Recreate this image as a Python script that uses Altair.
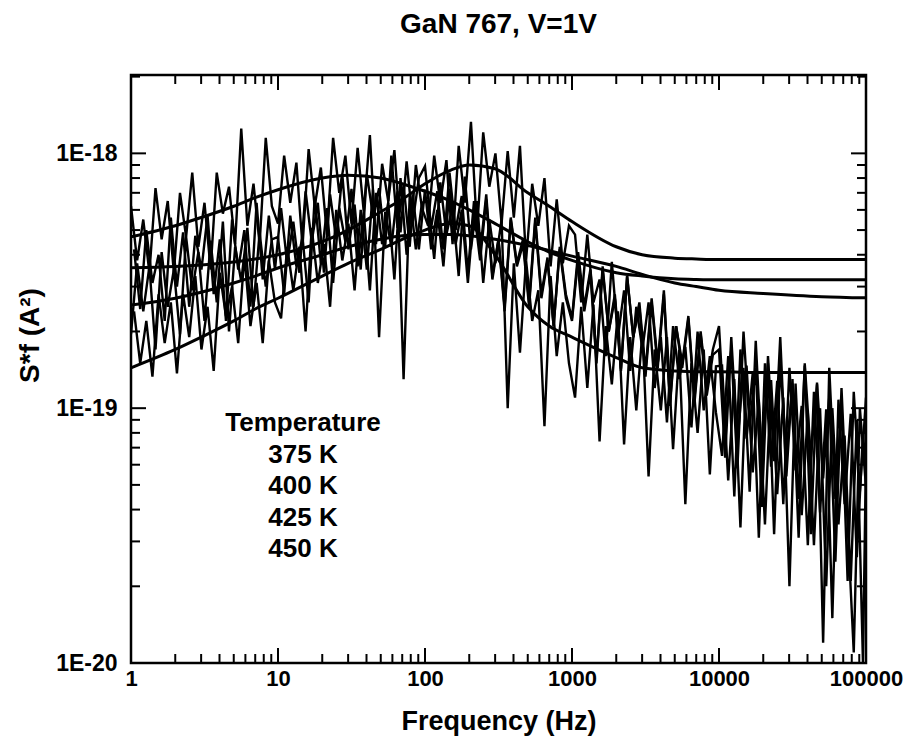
import altair as alt
import pandas as pd

FONT = "Liberation Sans"
UNIT = 1e-19  # values below are in units of 1E-19 A^2

# frequency grid (per-decade mantissas; two interleaved grids)
mant_a = [1.0, 1.101, 1.212, 1.334, 1.468, 1.616, 1.778, 1.957, 2.154, 2.371, 2.610, 2.873,
          3.162, 3.481, 3.831, 4.217, 4.642, 5.109, 5.623, 6.190, 6.813, 7.499, 8.254, 9.085]
mant_b = [1.049, 1.155, 1.271, 1.399, 1.540, 1.695, 1.866, 2.054, 2.261, 2.489, 2.738, 3.014,
          3.318, 3.652, 4.020, 4.425, 4.870, 5.361, 5.902, 6.496, 7.151, 7.871, 8.664, 9.537]
decades = [1, 10, 100, 1000, 10000]
f_max = 100000

# measured S*f, trace 375 K
t375 = ([6.2, 3.8, 5.5, 3.4, 7.3, 4.6, 6.5, 3.4, 7.0, 4.7, 8.4, 4.3, 6.4, 3.5, 8.4, 5.8, 7.4, 4.4, 12.5, 5.2, 7.6, 4.4, 11.5, 6.2]
        + [5.3, 9.8, 6.4, 9.2, 4.3, 10.4, 6.2, 8.8, 4.8, 11.5, 7.0, 9.8, 5.3, 10.5, 5.9, 11.8, 4.4, 9.1, 6.5, 10.3, 4.9, 9.3, 5.4, 8.0]
        + [8.9, 5.1, 7.1, 4.2, 8.4, 5.0, 6.8, 3.4, 6.5, 4.1, 6.9, 3.3, 4.6, 2.4, 5.5, 3.6, 4.4, 2.5, 5.4, 2.7, 3.8, 2.1, 4.2, 2.7]
        + [2.2, 3.9, 2.4, 3.4, 1.5, 3.5, 2.0, 2.7, 1.4, 3.3, 1.9, 2.6, 1.4, 2.7, 1.5, 2.9, 1.05, 2.1, 1.5, 2.3, 1.1, 2.0, 1.2, 1.7]
        + [2.1, 0.81, 1.7, 0.58, 2.0, 0.85, 1.44, 0.41, 1.6, 0.62, 1.9, 0.54, 1.3, 0.31, 1.5, 0.64, 1.24, 0.12, 1.44, 0.44, 1.02, 0.21, 1.16, 0.47]
        + [1.1])
# trace 400 K
t400 = ([4.2, 2.45, 5.0, 3.1, 4.0, 2.2, 5.6, 3.0, 4.9, 2.5, 4.75, 3.5, 5.7, 2.8, 4.6, 2.2, 5.5, 3.5, 5.0, 2.5, 6.4, 3.2, 5.7, 3.5]
        + [6.1, 3.7, 5.4, 3.4, 7.1, 4.5, 6.4, 3.4, 6.9, 4.6, 8.3, 4.2, 6.3, 3.5, 8.3, 5.7, 7.3, 4.3, 9.8, 5.1, 7.5, 4.3, 9.0, 6.1]
        + [5.2, 9.8, 6.4, 9.4, 4.4, 10.7, 6.4, 13.3, 5.0, 12.1, 7.4, 10.0, 5.3, 10.2, 5.6, 10.7, 3.8, 7.6, 5.2, 8.0, 3.6, 6.6, 3.7, 5.2]
        + [4.8, 2.6, 4.8, 2.6, 3.2, 1.6, 3.75, 1.9, 2.9, 1.4, 2.5, 1.7, 2.6, 1.2, 1.9, 0.88, 2.1, 1.3, 1.74, 0.84, 2.0, 0.98, 1.6, 0.96]
        + [0.65, 1.6, 0.45, 1.7, 0.76, 1.37, 0.31, 1.5, 0.59, 1.28, 0.42, 1.44, 0.57, 1.02, 0.29, 1.16, 0.39, 0.99, 0.15, 1.08, 0.42, 0.95, 0.26, 0.8]
        + [0.56])
# trace 425 K
t425 = ([1.95, 3.7, 2.4, 3.6, 1.7, 4.1, 2.5, 3.5, 1.95, 4.7, 2.9, 4.1, 2.2, 4.55, 2.6, 5.4, 2.0, 4.3, 3.15, 5.1, 2.5, 4.9, 3.0, 4.6]
        + [4.7, 2.8, 5.7, 3.6, 4.7, 2.6, 6.75, 3.7, 6.1, 3.1, 6.1, 4.5, 7.25, 3.6, 5.9, 2.9, 7.0, 4.4, 6.4, 3.2, 8.0, 4.0, 6.9, 4.2]
        + [7.2, 4.2, 6.0, 3.6, 7.25, 4.4, 6.0, 3.1, 6.0, 3.8, 6.6, 3.2, 4.6, 2.5, 5.6, 3.7, 4.6, 2.6, 5.6, 2.8, 3.9, 2.1, 4.3, 2.8]
        + [2.25, 4.1, 2.5, 3.5, 1.56, 3.6, 2.0, 2.8, 1.43, 3.3, 1.9, 2.5, 1.33, 2.6, 1.44, 2.8, 1.02, 2.1, 1.44, 2.25, 1.05, 1.96, 1.12, 1.62]
        + [1.7, 0.64, 1.9, 0.73, 1.44, 0.47, 1.84, 0.62, 1.5, 0.32, 1.5, 0.66, 1.25, 0.44, 1.47, 0.32, 1.26, 0.53, 1.1, 0.25, 1.2, 0.35, 0.11, 1.0]
        + [0.49])
# trace 450 K
t450 = ([2.4, 1.5, 2.2, 1.33, 2.8, 1.8, 2.6, 1.37, 2.8, 1.9, 3.3, 1.7, 2.5, 1.4, 3.4, 2.3, 3.0, 1.8, 4.0, 2.1, 3.1, 1.8, 3.8, 2.6]
        + [2.25, 4.3, 2.9, 4.3, 2.0, 5.1, 3.1, 4.4, 2.5, 6.0, 3.8, 5.3, 2.9, 6.0, 3.5, 7.2, 1.9, 5.9, 4.3, 7.1, 1.3, 6.9, 4.2, 6.4]
        + [6.5, 3.85, 7.7, 4.8, 6.2, 3.3, 8.1, 4.2, 6.5, 3.1, 5.5, 3.7, 5.5, 1.0, 3.7, 1.65, 3.8, 2.2, 2.9, 0.85, 3.3, 1.6, 2.6, 1.5]
        + [1.1, 2.5, 1.2, 2.55, 0.74, 2.1, 1.24, 2.4, 0.72, 1.9, 0.98, 2.0, 0.54, 1.7, 0.98, 1.9, 0.69, 1.7, 0.42, 1.5, 0.8, 1.7, 0.55, 1.46]
        + [1.47, 0.52, 1.3, 0.34, 1.47, 0.56, 1.08, 0.35, 1.29, 0.46, 1.1, 0.2, 1.25, 0.38, 0.96, 0.29, 1.0, 0.2, 1.0, 0.35, 0.78, 0.21, 0.9, 0.1]
        + [0.66])

# fitted curves
fit_freq = [1, 2, 3, 5, 7, 10, 20, 30, 50, 70, 100, 150, 200, 300, 500, 700, 1000, 2000, 3000, 5000, 7000, 10000, 20000, 50000, 100000]
fit375 = [4.7, 5.2, 5.6, 6.2, 6.7, 7.2, 8.0, 8.2, 8.0, 7.6, 7.1, 6.5, 6.0, 5.3, 4.5, 4.1, 3.8, 3.4, 3.3, 3.22, 3.2, 3.19, 3.19, 3.19, 3.19]
fit400 = [3.56, 3.6, 3.65, 3.75, 3.85, 4.0, 4.5, 5.0, 5.9, 6.6, 7.6, 8.6, 9.0, 8.7, 7.0, 6.2, 5.4, 4.3, 4.0, 3.88, 3.85, 3.83, 3.83, 3.83, 3.83]
fit425 = [2.54, 2.7, 2.85, 3.1, 3.3, 3.55, 4.0, 4.3, 4.6, 4.75, 4.8, 4.8, 4.75, 4.6, 4.35, 4.15, 3.95, 3.6, 3.35, 3.1, 3.0, 2.9, 2.82, 2.74, 2.71]
fit450 = [1.44, 1.7, 1.9, 2.2, 2.45, 2.7, 3.3, 3.7, 4.2, 4.6, 5.0, 5.3, 5.2, 4.0, 2.5, 2.1, 1.9, 1.58, 1.44, 1.4, 1.39, 1.39, 1.38, 1.38, 1.38]

legend_title = "Temperature"
temperatures = ["375 K", "400 K", "425 K", "450 K"]

x_major = [1, 10, 100, 1000, 10000, 100000]
minor_mult = [2, 3, 4, 5, 6, 7, 8, 9]
y_major = [1e-20, 1e-19, 1e-18]
y_top = 2.03e-18

# ---- build tables ----
freq_a = [d * m for d in decades for m in mant_a] + [f_max]
freq_b = [d * m for d in decades for m in mant_b] + [f_max]

rows = []
for name, vals, grid in [("375 K", t375, freq_a), ("400 K", t400, freq_b),
                         ("425 K", t425, freq_a), ("450 K", t450, freq_b)]:
    for f, v in zip(grid, vals):
        rows.append({"f": f, "v": v * UNIT, "trace": name})
noise_df = pd.DataFrame(rows)

frows = []
for name, vals in [("375 K", fit375), ("400 K", fit400), ("425 K", fit425), ("450 K", fit450)]:
    for f, v in zip(fit_freq, vals):
        frows.append({"f": f, "v": v * UNIT, "trace": name})
fit_df = pd.DataFrame(frows)

x_minor = [m * d for d in decades for m in minor_mult]
y_minor = [m * d for d in [1e-20, 1e-19] for m in minor_mult] + [2e-18]

W, H = 735, 588
xs = alt.Scale(type="log", domain=[1, 100000], nice=False)
ys = alt.Scale(type="log", domain=[1e-20, y_top], nice=False)

x_axis = alt.Axis(values=x_major, labelExpr="'' + datum.value", ticks=False, tickSize=0,
                  domain=False, grid=False, labelFont=FONT, labelFontSize=22,
                  labelFontWeight="bold", labelColor="black", labelPadding=5,
                  labelFlush=False, labelOverlap=False, title="Frequency (Hz)",
                  titleFont=FONT, titleFontSize=27, titleFontWeight="bold",
                  titleColor="black", titleY=45, titleBaseline="top")
y_axis = alt.Axis(values=y_major, labelExpr="'1E' + round(log(datum.value) / LN10)",
                  ticks=False, tickSize=0, domain=False, grid=False, labelFont=FONT,
                  labelFontSize=23, labelFontWeight="bold", labelColor="black",
                  labelPadding=14, labelOverlap=False, title="S*f (A²)", titleFont=FONT,
                  titleFontSize=28, titleFontWeight="bold", titleColor="black",
                  titleX=-101, titleY=260, titleBaseline="middle", titleAlign="center",
                  titleAngle=270)

X = alt.X("f:Q", scale=xs, axis=x_axis)
Y = alt.Y("v:Q", scale=ys, axis=y_axis)

noise = alt.Chart(noise_df).mark_line(color="black", strokeWidth=2.4, clip=True).encode(
    x=X, y=Y, detail="trace:N", order="f:Q")

fits = alt.Chart(fit_df).mark_line(color="black", strokeWidth=3, clip=True,
                                   interpolate="monotone").encode(
    x=X, y=Y, detail="trace:N", order="f:Q")


def xticks(vals, length, side):
    df = pd.DataFrame({"f": vals})
    y0, y1 = (H, H - length) if side == "bottom" else (0, length)
    return alt.Chart(df).mark_rule(color="black", strokeWidth=2).encode(
        x=X, y=alt.value(y0), y2=alt.value(y1))


def yticks(vals, length, side):
    df = pd.DataFrame({"v": vals})
    x0, x1 = (0, length) if side == "left" else (W, W - length)
    return alt.Chart(df).mark_rule(color="black", strokeWidth=2).encode(
        y=Y, x=alt.value(x0), x2=alt.value(x1))


ticks = [xticks(x_major, 15, "bottom"), xticks(x_minor, 9, "bottom"),
         xticks(x_major, 15, "top"), xticks(x_minor, 9, "top"),
         yticks(y_major, 15, "left"), yticks(y_minor, 9, "left"),
         yticks(y_major, 15, "right"), yticks(y_minor, 9, "right")]

legend = alt.Chart(pd.DataFrame({"k": [0]})).mark_text(
    align="center", baseline="top", fontSize=26, font=FONT, fontWeight="bold",
    lineHeight=31.5, color="black").encode(
    x=alt.value(172), y=alt.value(335), text=alt.value([legend_title] + temperatures))

chart = alt.layer(noise, fits, *ticks, legend).properties(
    width=W, height=H,
    title=alt.TitleParams("GaN 767, V=1V", fontSize=28, font=FONT, fontWeight="bold",
                          offset=35, anchor="middle", color="black"),
    padding={"left": 131, "top": 75, "right": 39, "bottom": 77},
    autosize="none",
    background="white",
).configure_view(stroke="black", strokeWidth=2.5)

chart.save("out.html", embed_options={"renderer": "svg", "actions": False})
